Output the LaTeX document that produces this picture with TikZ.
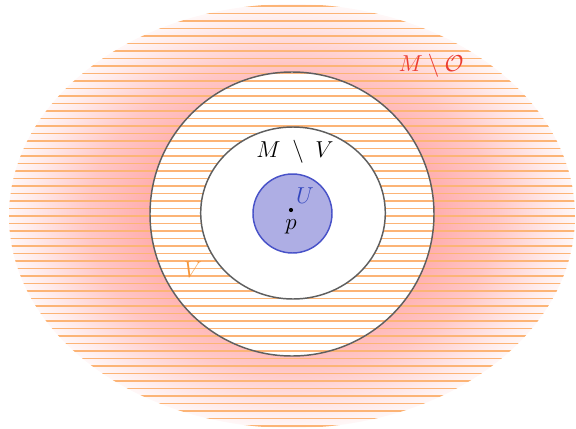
\documentclass[tikz,border=0pt]{standalone}
\usepackage{amsmath}
\pgfdeclareradialshading{halo}{\pgfpoint{0bp}{0bp}}{color(0bp)=(red!32); color(12.5bp)=(red!32); color(18bp)=(red!22); color(23bp)=(red!8); color(25bp)=(red!3); color(50bp)=(white)}
\definecolor{hatchorange}{RGB}{252,180,118}
\definecolor{ringgray}{RGB}{95,95,95}
\definecolor{ufill}{RGB}{174,174,228}
\definecolor{uborder}{RGB}{72,82,200}
\definecolor{labred}{RGB}{235,60,50}
\definecolor{laborange}{RGB}{245,150,60}
\definecolor{labblue}{RGB}{50,70,190}
\tikzset{
  hatch/.style={draw=hatchorange, line width=1.4pt},
  ringline/.style={draw=ringgray, line width=1.1pt},
  lab/.style={inner sep=0pt, font=\fontsize{16}{19}\selectfont}
}
\begin{document}
\begin{tikzpicture}[x=0.75pt,y=-0.75pt]
\useasboundingbox (0,0) rectangle (576,429);
\coordinate (O) at (292,216);
\coordinate (C) at (292,214);
\coordinate (I) at (293,213);
% red halo
\path[shading=halo] (O) ellipse [x radius=283, y radius=212];
% white middle disk
\fill[white] (C) circle [radius=142];
% hatching
\begin{scope}
  \clip (O) ellipse [x radius=283, y radius=212];
  \foreach \k in {-28,...,28}
    \draw[hatch] (0,{216+7.5*\k}) -- (576,{216+7.5*\k});
\end{scope}
% middle circle
\draw[ringline] (C) circle [radius=142];
% inner disk
\fill[white] (I) ellipse [x radius=92.3, y radius=86];
\draw[ringline] (I) ellipse [x radius=92.3, y radius=86];
% U
\fill[ufill] (292.5,213.5) circle [radius=39.5];
\draw[uborder, line width=1.1pt] (292.5,213.5) circle [radius=39.5];
\fill[black] (291,210) circle [radius=2.1];
% labels
\node[lab] (mv) at (295,151.5) {$M\ \setminus\ V$};
\node[lab, text=labred] (mo) at (431,66) {$M\setminus\mathcal{O}$};
\node[lab, text=laborange] (v) at (193,270) {$V$};
\node[lab, text=labblue] (u) at (305,196) {$U$};
\node[lab] (p) at (291,226.5) {$p$};
\end{tikzpicture}
\end{document}
